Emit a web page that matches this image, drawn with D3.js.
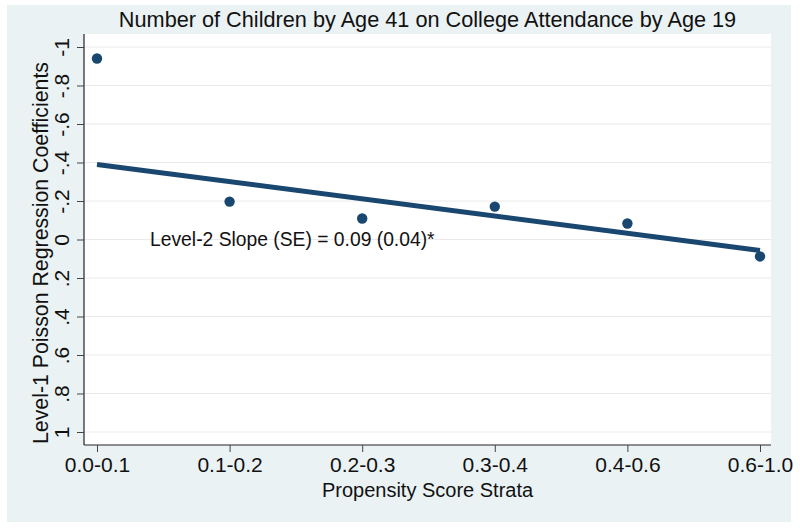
<!DOCTYPE html>
<html>
<head>
<meta charset="utf-8">
<script src="https://cdn.jsdelivr.net/npm/d3@7"></script>
<style>
  html, body { margin: 0; padding: 0; background: #ffffff; }
  svg { display: block; font-family: "Liberation Sans", Arial, Helvetica, sans-serif; }
</style>
</head>
<body>
<svg id="chart" width="800" height="528"></svg>
<script>
// ---- data ----
const strata = ["0.0-0.1", "0.1-0.2", "0.2-0.3", "0.3-0.4", "0.4-0.6", "0.6-1.0"];
const strataPos = [1, 2, 3, 4, 5, 6];
const coefficients = [-0.94, -0.197, -0.109, -0.171, -0.083, 0.088];
const fitLineX = [1, 6];
const fitLineY = [-0.39, 0.057];
const yTicks = [-1, -0.8, -0.6, -0.4, -0.2, 0, 0.2, 0.4, 0.6, 0.8, 1];
const yTickLabels = ["-1", "-.8", "-.6", "-.4", "-.2", "0", ".2", ".4", ".6", ".8", "1"];
const titleText = "Number of Children by Age 41 on College Attendance by Age 19";
const xTitle = "Propensity Score Strata";
const yTitle = "Level-1 Poisson Regression Coefficients";
const annotation = "Level-2 Slope (SE) = 0.09 (0.04)*";

// ---- layout ----
const svg = d3.select("#chart");
const outer = { x: 7, y: 5, w: 784, h: 517 };
const plot = { left: 84, top: 34, right: 771, bottom: 445 };
const navy = "#1a476f";
const FONT = "Liberation Sans, Arial, sans-serif";

svg.append("rect").attr("x", outer.x).attr("y", outer.y)
  .attr("width", outer.w).attr("height", outer.h).attr("fill", "#eaf2f3");
svg.append("rect").attr("x", plot.left).attr("y", plot.top)
  .attr("width", plot.right - plot.left).attr("height", plot.bottom - plot.top)
  .attr("fill", "#ffffff");

const x = d3.scaleLinear().domain([0.902, 6.083]).range([plot.left, plot.right]);
const y = d3.scaleLinear().domain([-1, 1]).range([47, 432]);

// gridlines
svg.append("g").selectAll("line").data(yTicks).join("line")
  .attr("x1", plot.left).attr("x2", plot.right)
  .attr("y1", d => y(d)).attr("y2", d => y(d))
  .attr("stroke", "#eaeaea").attr("stroke-width", 1);

// y axis
const yAxis = d3.axisLeft(y).tickValues(yTicks)
  .tickFormat((d, i) => yTickLabels[i]).tickSize(7).tickPadding(0);
const gy = svg.append("g").attr("transform", `translate(${plot.left},0)`).call(yAxis);
gy.select(".domain").attr("d", `M0,${plot.top}V${plot.bottom}`).attr("stroke", "#222").attr("stroke-width", 1.2);
gy.selectAll(".tick line").attr("stroke", "#444");
gy.selectAll(".tick text")
  .attr("x", 0).attr("dy", null)
  .attr("transform", "translate(-15,0) rotate(-90)")
  .attr("text-anchor", "middle")
  .attr("font-size", 21).attr("fill", "#111")
  .attr("font-family", FONT);

// x axis
const xAxis = d3.axisBottom(x).tickValues(strataPos)
  .tickFormat((d, i) => strata[i]).tickSize(7).tickPadding(6);
const gx = svg.append("g").attr("transform", `translate(0,${plot.bottom})`).call(xAxis);
gx.select(".domain").attr("d", `M${plot.left},0H${plot.right}`).attr("stroke", "#222").attr("stroke-width", 1.2);
gx.selectAll(".tick line").attr("stroke", "#444");
gx.selectAll(".tick text")
  .attr("y", 27).attr("dy", null)
  .attr("font-size", 21).attr("fill", "#111")
  .attr("font-family", FONT);

// fitted line
const line = d3.line().x(d => x(d[0])).y(d => y(d[1]));
svg.append("path")
  .datum(fitLineX.map((v, i) => [v, fitLineY[i]]))
  .attr("d", line).attr("fill", "none")
  .attr("stroke", navy).attr("stroke-width", 5);

// points
svg.append("g").selectAll("circle")
  .data(strataPos.map((p, i) => [p, coefficients[i]]))
  .join("circle")
  .attr("cx", d => x(d[0])).attr("cy", d => y(d[1]))
  .attr("r", 5.2).attr("fill", navy);

// annotation
svg.append("text").attr("x", x(1.4)).attr("y", y(0.035))
  .attr("font-size", 19.3).attr("fill", "#111").text(annotation);

// titles
svg.append("text").attr("x", (plot.left + plot.right) / 2).attr("y", 27)
  .attr("text-anchor", "middle").attr("font-size", 21.7).attr("fill", "#111")
  .text(titleText);
svg.append("text").attr("x", (plot.left + plot.right) / 2).attr("y", 497)
  .attr("text-anchor", "middle").attr("font-size", 20).attr("fill", "#111")
  .text(xTitle);
svg.append("text")
  .attr("transform", `translate(48,253) rotate(-90)`)
  .attr("text-anchor", "middle").attr("font-size", 21.3).attr("fill", "#111")
  .text(yTitle);
</script>
</body>
</html>
